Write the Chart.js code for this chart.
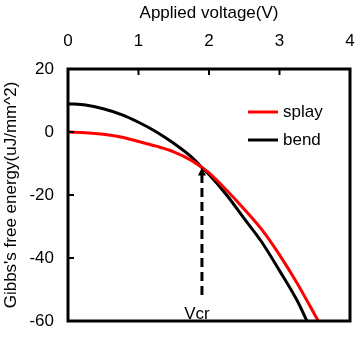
<!DOCTYPE html>
<html>
<head>
<meta charset="utf-8">
<script src="https://cdn.jsdelivr.net/npm/chart.js@4/dist/chart.umd.min.js"></script>
<style>
html,body{margin:0;padding:0;background:#fff;}
#wrap{width:358px;height:348px;position:relative;}
</style>
</head>
<body>
<div id="wrap"><canvas id="c" width="358" height="348"></canvas></div>
<script>
// ---- data ----
const seriesNames = ["splay", "bend"];
const splayVoltage = [0, 0.25, 0.5, 0.75, 1.0, 1.25, 1.5, 1.75, 1.9, 2.0, 2.25, 2.5, 2.75, 3.0, 3.25, 3.5, 3.55];
const splayEnergy  = [0, -0.2, -0.7, -1.6, -3.0, -4.5, -6.3, -9.0, -11.3, -13.0, -18.5, -24.5, -31.0, -39.0, -48.0, -58.0, -60.0];
const bendVoltage  = [0, 0.25, 0.5, 0.75, 1.0, 1.25, 1.5, 1.75, 1.9, 2.0, 2.25, 2.5, 2.75, 3.0, 3.25, 3.39];
const bendEnergy   = [9, 8.6, 7.4, 5.6, 3.1, 0.1, -3.6, -7.9, -11.3, -13.5, -20.0, -27.5, -35.0, -44.0, -53.5, -60.0];
const vcrVoltage = 1.9;
const vcrEnergy = -11.3;
const vcrLineEnd = -52.5;
const vcrLabel = "Vcr";
const xTicks = [0, 1, 2, 3, 4];
const yTicks = [20, 0, -20, -40, -60];
const xTitle = "Applied voltage(V)";
const yTitle = "Gibbs's free energy(uJ/mm^2)";

const FONT = "'Liberation Sans', Arial, sans-serif";
const FS = 17;
const zip = (xs, ys) => xs.map((x, i) => ({x: x, y: ys[i]}));

const overlay = {
  id: 'overlay',
  afterDatasetsDraw(chart) {
    const ctx = chart.ctx;
    const a = chart.chartArea;
    const xs = chart.scales.x, ys = chart.scales.y;
    ctx.save();
    // frame
    ctx.strokeStyle = '#000';
    ctx.lineWidth = 3;
    ctx.strokeRect(a.left, a.top, a.right - a.left, a.bottom - a.top);
    // inward ticks
    ctx.lineWidth = 2;
    xTicks.forEach(v => {
      if (v === xs.min || v === xs.max) return;
      const px = xs.getPixelForValue(v);
      ctx.beginPath(); ctx.moveTo(px, a.top); ctx.lineTo(px, a.top + 6); ctx.stroke();
    });
    yTicks.forEach(v => {
      if (v === ys.min || v === ys.max) return;
      const py = ys.getPixelForValue(v);
      ctx.beginPath(); ctx.moveTo(a.left, py); ctx.lineTo(a.left + 6, py); ctx.stroke();
    });
    // arrowhead on Vcr line
    const ax = xs.getPixelForValue(vcrVoltage), ay = ys.getPixelForValue(vcrEnergy);
    ctx.fillStyle = '#000';
    ctx.beginPath();
    ctx.moveTo(ax, ay);
    ctx.lineTo(ax - 4, ay + 8);
    ctx.lineTo(ax + 4, ay + 8);
    ctx.closePath(); ctx.fill();
    // Vcr label
    ctx.font = FS + "px " + FONT;
    ctx.textAlign = 'center';
    ctx.textBaseline = 'alphabetic';
    ctx.fillStyle = '#000';
    ctx.fillText(vcrLabel, ax - 5, a.bottom - 2);
    // legend
    const lx = a.left + 180, ly = a.top + 43;
    chart.data.datasets.slice(0, 2).forEach((ds, i) => {
      const y = ly + i * 28;
      ctx.strokeStyle = ds.borderColor;
      ctx.lineWidth = 3;
      ctx.beginPath(); ctx.moveTo(lx, y); ctx.lineTo(lx + 30, y); ctx.stroke();
      ctx.fillStyle = '#000';
      ctx.textAlign = 'left';
      ctx.textBaseline = 'middle';
      ctx.fillText(ds.label, lx + 35, y);
    });
    ctx.restore();
  }
};

new Chart(document.getElementById('c'), {
  type: 'line',
  data: {
    datasets: [
      {label: seriesNames[0], data: zip(splayVoltage, splayEnergy), borderColor: '#ff0000', borderWidth: 3, pointRadius: 0, cubicInterpolationMode: 'monotone', fill: false},
      {label: seriesNames[1], data: zip(bendVoltage, bendEnergy), borderColor: '#000000', borderWidth: 3, pointRadius: 0, cubicInterpolationMode: 'monotone', fill: false},
      {label: 'vcr', data: [{x: vcrVoltage, y: vcrEnergy - 2}, {x: vcrVoltage, y: vcrLineEnd}], borderColor: '#000', borderWidth: 3, borderDash: [9, 5], pointRadius: 0, fill: false}
    ]
  },
  options: {
    responsive: false,
    animation: false,
    layout: {padding: {left: 0, right: 8, top: 0, bottom: 27}},
    plugins: {legend: {display: false}, tooltip: {enabled: false}},
    scales: {
      x: {
        type: 'linear', position: 'top', min: 0, max: 4,
        afterBuildTicks: s => { s.ticks = xTicks.map(v => ({value: v})); },
        afterFit: s => { s.height = 69; s.paddingLeft = 0; s.paddingRight = 0; },
        grid: {display: false, drawTicks: false},
        border: {display: false},
        ticks: {color: '#000', font: {family: FONT, size: FS}, padding: 17, maxRotation: 0},
        title: {display: true, text: xTitle, color: '#000', font: {family: FONT, size: FS}, padding: {top: 3, bottom: 0}}
      },
      y: {
        type: 'linear', min: -60, max: 20,
        afterBuildTicks: s => { s.ticks = yTicks.map(v => ({value: v})); },
        afterFit: s => { s.width = 68; s.paddingTop = 0; s.paddingBottom = 0; },
        grid: {display: false, drawTicks: false},
        border: {display: false},
        ticks: {color: '#000', font: {family: FONT, size: FS}, padding: 14},
        title: {display: true, text: yTitle, color: '#000', font: {family: FONT, size: FS}, padding: {top: 1, bottom: 0}}
      }
    }
  },
  plugins: [overlay]
});
</script>
</body>
</html>
